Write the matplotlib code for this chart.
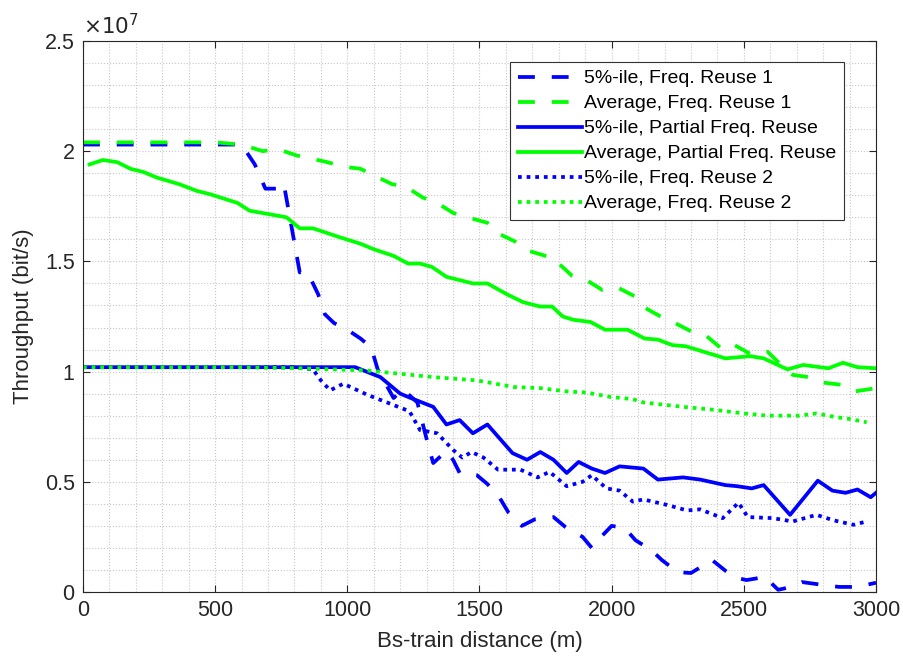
import matplotlib.pyplot as plt
from matplotlib.ticker import MultipleLocator, FuncFormatter

plt.rcParams['font.family'] = ['Liberation Sans', 'DejaVu Sans']

# throughput values, in units of 1e6 bit/s
x_r1_5 = [0, 100, 200, 300, 400, 500, 600, 650, 690, 750, 760, 820, 850, 890, 915,
          950, 1000, 1050, 1090, 1115, 1175, 1210, 1265, 1305, 1325, 1375, 1400, 1425,
          1490, 1530, 1575, 1610, 1660, 1710, 1780, 1825, 1890, 1925, 1960, 2000, 2050,
          2090, 2150, 2190, 2250, 2300, 2380, 2460, 2510, 2580, 2630, 2680, 2720, 2800,
          2860, 2930, 3000]
y_r1_5 = [20.3, 20.3, 20.3, 20.3, 20.3, 20.3, 20.3, 19.4, 18.3, 18.3, 18.5, 14.5, 14.5,
          13.5, 12.6, 12.2, 11.9, 11.5, 11.1, 10.1, 8.8, 9.2, 8.6, 6.7, 5.85, 6.4, 6.0,
          5.4, 5.3, 4.9, 4.3, 3.6, 3.0, 3.3, 3.4, 2.95, 2.5, 2.0, 2.5, 3.0, 2.9, 2.35,
          1.9, 1.45, 0.9, 0.86, 1.45, 0.68, 0.54, 0.68, 0.1, 0.23, 0.45, 0.32, 0.23,
          0.23, 0.42]

x_r1_avg = [0, 100, 200, 300, 400, 500, 600, 680, 735, 810, 850, 925, 985, 1050, 1100,
            1170, 1220, 1285, 1340, 1400, 1455, 1530, 1565, 1635, 1680, 1750, 1775, 1800,
            1850, 1905, 1965, 2025, 2090, 2125, 2185, 2240, 2305, 2360, 2420, 2465, 2525,
            2590, 2650, 2685, 2745, 2800, 2870, 2920, 3000]
y_r1_avg = [20.4, 20.4, 20.4, 20.4, 20.4, 20.4, 20.3, 20.0, 20.1, 19.8, 19.7, 19.5, 19.3,
            19.2, 18.9, 18.5, 18.4, 17.9, 17.65, 17.2, 17.0, 16.75, 16.3, 15.9, 15.5,
            15.25, 15.2, 14.9, 14.35, 14.15, 13.7, 13.8, 13.4, 12.9, 12.5, 12.2, 11.8,
            11.6, 11.0, 11.2, 10.8, 10.9, 10.2, 9.85, 9.75, 9.5, 9.4, 9.1, 9.25]

x_pfr_5 = [0, 200, 400, 600, 800, 1030, 1125, 1200, 1240, 1325, 1375, 1425, 1475, 1530,
           1625, 1680, 1730, 1780, 1830, 1875, 1925, 1975, 2030, 2120, 2175, 2270, 2335,
           2430, 2475, 2530, 2575, 2675, 2780, 2835, 2885, 2930, 2980, 3000]
y_pfr_5 = [10.2, 10.2, 10.2, 10.2, 10.2, 10.2, 9.75, 9.0, 8.8, 8.4, 7.6, 7.8, 7.2, 7.6,
           6.3, 6.0, 6.35, 6.0, 5.4, 5.9, 5.6, 5.4, 5.7, 5.6, 5.1, 5.2, 5.1, 4.85, 4.8,
           4.7, 4.85, 3.5, 5.05, 4.6, 4.5, 4.65, 4.3, 4.5]

x_pfr_avg = [25, 75, 130, 180, 230, 280, 365, 430, 480, 585, 630, 770, 820, 870, 970,
             1050, 1100, 1175, 1230, 1275, 1320, 1375, 1425, 1475, 1530, 1605, 1665, 1730,
             1775, 1815, 1855, 1920, 1975, 2060, 2125, 2175, 2230, 2280, 2430, 2525, 2575,
             2665, 2725, 2820, 2875, 2930, 3000]
y_pfr_avg = [19.4, 19.6, 19.5, 19.2, 19.05, 18.8, 18.5, 18.2, 18.05, 17.65, 17.3, 17.0,
             16.5, 16.5, 16.1, 15.8, 15.55, 15.25, 14.9, 14.9, 14.75, 14.3, 14.15, 14.0,
             14.0, 13.5, 13.15, 12.95, 12.95, 12.5, 12.35, 12.25, 11.9, 11.9, 11.5, 11.45,
             11.2, 11.15, 10.6, 10.7, 10.6, 10.1, 10.3, 10.15, 10.4, 10.2, 10.15]

x_r2_5 = [0, 200, 400, 600, 800, 870, 900, 935, 985, 1075, 1150, 1235, 1275, 1340, 1400,
          1435, 1470, 1515, 1570, 1655, 1720, 1765, 1830, 1890, 1925, 1980, 2030, 2080,
          2120, 2210, 2285, 2335, 2420, 2480, 2515, 2610, 2685, 2775, 2840, 2915, 2965]
y_r2_5 = [10.2, 10.2, 10.2, 10.2, 10.2, 10.1, 9.6, 9.15, 9.45, 8.95, 8.6, 8.2, 7.35, 7.2,
          6.45, 6.1, 6.35, 6.1, 5.55, 5.55, 5.2, 5.45, 4.8, 5.0, 5.3, 4.7, 4.6, 4.1,
          4.2, 3.95, 3.7, 3.75, 3.35, 4.05, 3.4, 3.35, 3.2, 3.5, 3.25, 3.05, 3.2]

x_r2_avg = [0, 200, 400, 600, 820, 1075, 1325, 1490, 1630, 1730, 1830, 1905, 1995, 2080,
            2120, 2270, 2400, 2500, 2590, 2710, 2775, 2840, 2900, 2965]
y_r2_avg = [10.2, 10.2, 10.2, 10.2, 10.15, 10.05, 9.75, 9.6, 9.3, 9.25, 9.1, 9.05, 8.85,
            8.75, 8.6, 8.4, 8.25, 8.1, 8.0, 8.0, 8.1, 7.95, 7.85, 7.7]

labels = ['5%-ile, Freq. Reuse 1', 'Average, Freq. Reuse 1',
          '5%-ile, Partial Freq. Reuse', 'Average, Partial Freq. Reuse',
          '5%-ile, Freq. Reuse 2', 'Average, Freq. Reuse 2']

def sc(v):
    return [a * 1e6 for a in v]

fig = plt.figure(figsize=(9.04, 6.61), dpi=100)
ax = fig.add_axes([0.0918, 0.1044, 0.8772, 0.8336])

lw = 2.7
dash = (0, (4.5, 4.5))
dot = (0, (1, 1.3))
blue, green = '#0000ff', '#00ff00'

ax.plot(x_r1_5, sc(y_r1_5), color=blue, lw=lw, ls=dash, label=labels[0])
ax.plot(x_r1_avg, sc(y_r1_avg), color=green, lw=lw, ls=dash, label=labels[1])
ax.plot(x_pfr_5, sc(y_pfr_5), color=blue, lw=lw, ls='-', label=labels[2])
ax.plot(x_pfr_avg, sc(y_pfr_avg), color=green, lw=lw, ls='-', label=labels[3])
ax.plot(x_r2_5, sc(y_r2_5), color=blue, lw=lw, ls=dot, label=labels[4])
ax.plot(x_r2_avg, sc(y_r2_avg), color=green, lw=lw, ls=dot, label=labels[5])

ax.set_xlim(0, 3000)
ax.set_ylim(0, 2.5e7)
ax.xaxis.set_major_locator(MultipleLocator(500))
ax.xaxis.set_minor_locator(MultipleLocator(100))
ax.yaxis.set_major_locator(MultipleLocator(0.5e7))
ax.yaxis.set_minor_locator(MultipleLocator(0.1e7))
ax.yaxis.set_major_formatter(FuncFormatter(lambda v, p: '%g' % (v / 1e7)))

ax.grid(True, which='both', color='#c8c8c8', ls=':', lw=0.8)
ax.set_axisbelow(True)
tc = '#262626'
ax.tick_params(which='major', direction='in', length=5, top=True, right=True,
               labelsize=15.5, colors=tc, pad=6)
ax.tick_params(which='minor', length=0)
for s in ax.spines.values():
    s.set_color(tc)
    s.set_linewidth(0.8)

ax.text(0.0, 1.003, r'$\times10^{7}$', transform=ax.transAxes, fontsize=15.5,
        color=tc, ha='left', va='bottom')

ax.set_xlabel('Bs-train distance (m)', fontsize=16, color=tc, labelpad=7)
ax.set_ylabel('Throughput (bit/s)', fontsize=16, color=tc, labelpad=8)

leg = ax.legend(loc='upper right', bbox_to_anchor=(0.96, 0.962), fontsize=14,
                handlelength=3.3, handletextpad=0.1, labelspacing=0.38,
                borderpad=0.4, borderaxespad=0, fancybox=False, framealpha=1,
                edgecolor='#333333')
leg.get_frame().set_linewidth(0.8)

fig.savefig('out.png', dpi=100)
